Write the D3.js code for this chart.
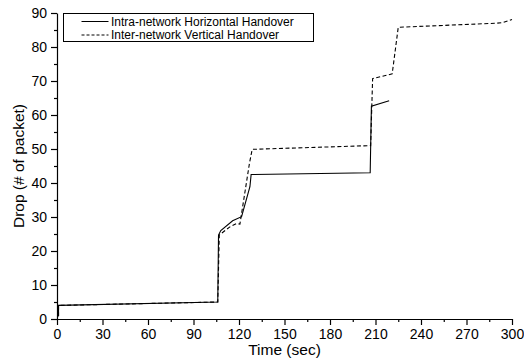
<!DOCTYPE html>
<html>
<head>
<meta charset="utf-8">
<script src="https://cdn.jsdelivr.net/npm/d3@7"></script>
<style>
  body { margin: 0; background: #fff; }
  text { font-family: "Liberation Sans", Arial, sans-serif; fill: #000; }
</style>
</head>
<body>
<script>
// Values
const seriesNames = ["Intra-network Horizontal Handover", "Inter-network Vertical Handover"];

const timeIntra = [1, 1, 106, 106.5, 108, 115.8, 121.7, 127.2, 128, 206.5, 207.3, 219];
const dropIntra = [0.8, 4, 5, 24.7, 26, 28.9, 30.1, 38.9, 42.5, 43, 62.6, 64.2];

const timeInter = [1, 1, 106, 107, 114, 118.4, 120.6, 126.9, 128.7, 206.8, 208.1, 221, 225, 290, 294, 300];
const dropInter = [0.8, 4, 5, 24.7, 27.1, 28.1, 27.9, 45.8, 49.9, 51, 70.7, 72.1, 85.8, 87, 87.2, 88.1];

const xTicks = d3.range(0, 301, 30);
const yTicks = d3.range(0, 91, 10);

const W = 524, H = 364;
const margin = {top: 13, right: 12, bottom: 45, left: 57};
const width = W - margin.left - margin.right,
      height = H - margin.top - margin.bottom;

const svg = d3.select("body")
  .append("svg")
    .attr("width", W)
    .attr("height", H);

const g = svg.append("g")
    .attr("transform", "translate(" + margin.left + "," + margin.top + ")");

const x = d3.scaleLinear().domain([0, 300]).range([0, width]);
const y = d3.scaleLinear().domain([0, 90]).range([height, 0]);

// minor ticks first, then major with labels
g.append("g")
  .attr("transform", "translate(0," + height + ")")
  .call(d3.axisBottom(x).tickValues(d3.range(15, 300, 30)).tickSize(3).tickFormat(""))
  .call(a => a.select(".domain").remove());

g.append("g")
  .call(d3.axisLeft(y).tickValues(d3.range(5, 90, 10)).tickSize(3).tickFormat(""))
  .call(a => a.select(".domain").remove());

g.append("g")
  .attr("transform", "translate(0," + height + ")")
  .call(d3.axisBottom(x).tickValues(xTicks).tickSize(6).tickPadding(4).tickSizeOuter(0));

g.append("g")
  .call(d3.axisLeft(y).tickValues(yTicks).tickSize(6).tickPadding(4).tickSizeOuter(0));

g.selectAll(".tick line, .domain").attr("stroke", "#000").attr("stroke-width", 1.2);
g.selectAll(".tick text").style("font-size", "14px").attr("fill", "#000");

// axis titles
svg.append("text")
  .attr("x", margin.left + x(150))
  .attr("y", 354.5)
  .attr("text-anchor", "middle")
  .style("font-size", "15.5px")
  .text("Time (sec)");

svg.append("text")
  .attr("transform", "translate(24," + (margin.top + y(45)) + ") rotate(-90)")
  .attr("text-anchor", "middle")
  .style("font-size", "15.5px")
  .text("Drop (# of packet)");

// lines
const line = d3.line()
  .x(d => x(d[0]))
  .y(d => y(d[1]));

const intra = timeIntra.map((t, i) => [t, dropIntra[i]]);
const inter = timeInter.map((t, i) => [t, dropInter[i]]);

g.append("path")
  .datum(inter)
  .attr("fill", "none")
  .attr("stroke", "#000")
  .attr("stroke-width", 1.1)
  .attr("stroke-dasharray", "4,2.5")
  .attr("d", line);

g.append("path")
  .datum(intra)
  .attr("fill", "none")
  .attr("stroke", "#000")
  .attr("stroke-width", 1.1)
  .attr("d", line);

// legend
const leg = svg.append("g").attr("transform", "translate(63.5,13.5)");
leg.append("rect")
  .attr("width", 250)
  .attr("height", 28)
  .attr("fill", "#fff")
  .attr("stroke", "#000")
  .attr("stroke-width", 1);

seriesNames.forEach((name, i) => {
  const yy = 8 + i * 13.5;
  leg.append("line")
    .attr("x1", 18).attr("x2", 45)
    .attr("y1", yy).attr("y2", yy)
    .attr("stroke", "#000")
    .attr("stroke-width", 1)
    .attr("stroke-dasharray", i === 1 ? "3,2" : null);
  leg.append("text")
    .attr("x", 47.5)
    .attr("y", yy + 4.2)
    .style("font-size", "12px")
    .text(name);
});
</script>
</body>
</html>
